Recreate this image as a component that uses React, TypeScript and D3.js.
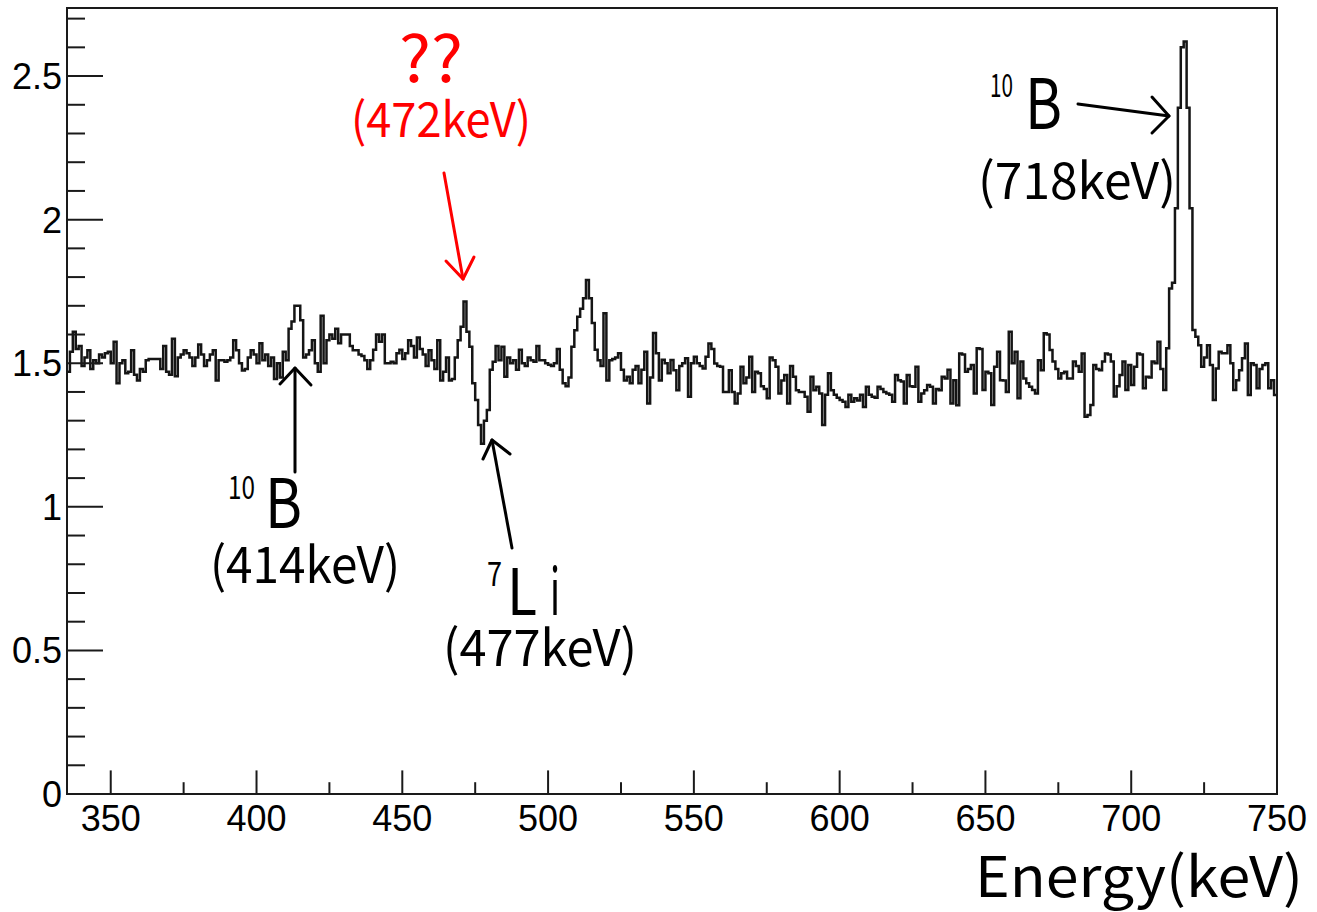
import React from "react";
import * as d3 from "d3";

// ---- data ----
const energyStart = 335; // keV, first bin low edge
const binWidth = 1; // keV
const energyEnd = 750;

const counts335to439 = [
  1.47, 1.54, 1.61, 1.55, 1.56, 1.49, 1.52, 1.545, 1.48, 1.51,
  1.5, 1.53, 1.52, 1.535, 1.54, 1.5, 1.575, 1.43, 1.5, 1.51,
  1.465, 1.47, 1.545, 1.46, 1.44, 1.48, 1.47, 1.51, 1.515, 1.515,
  1.515, 1.515, 1.48, 1.56, 1.47, 1.46, 1.585, 1.455, 1.52, 1.53,
  1.545, 1.535, 1.52, 1.49, 1.52, 1.565, 1.53, 1.49, 1.51, 1.53,
  1.545, 1.44, 1.51, 1.51, 1.505, 1.51, 1.52, 1.58, 1.545, 1.5,
  1.475, 1.48, 1.52, 1.545, 1.53, 1.5, 1.57, 1.51, 1.53, 1.49,
  1.52, 1.445, 1.5, 1.45, 1.54, 1.51, 1.62, 1.645, 1.7, 1.7,
  1.65, 1.52, 1.53, 1.545, 1.58, 1.5, 1.47, 1.665, 1.5, 1.58,
  1.6, 1.585, 1.62, 1.57, 1.6, 1.6, 1.6, 1.56, 1.545, 1.545,
  1.53, 1.525, 1.51, 1.48, 1.51,
];
const counts440to545 = [
  1.547, 1.6, 1.575, 1.6, 1.5, 1.5, 1.505, 1.5, 1.535, 1.547,
  1.515, 1.535, 1.58, 1.56, 1.52, 1.59, 1.55, 1.53, 1.49, 1.545,
  1.51, 1.48, 1.58, 1.44, 1.47, 1.52, 1.44, 1.445, 1.52, 1.58,
  1.627, 1.715, 1.61, 1.557, 1.43, 1.372, 1.285, 1.22, 1.3, 1.337,
  1.477, 1.505, 1.56, 1.51, 1.557, 1.453, 1.52, 1.5, 1.51, 1.477,
  1.547, 1.5, 1.49, 1.52, 1.51, 1.505, 1.56, 1.51, 1.51, 1.5,
  1.495, 1.49, 1.5, 1.55, 1.477, 1.43, 1.42, 1.45, 1.557, 1.615,
  1.662, 1.69, 1.726, 1.79, 1.726, 1.64, 1.547, 1.51, 1.49, 1.674,
  1.44, 1.51, 1.515, 1.52, 1.535, 1.477, 1.44, 1.453, 1.43, 1.477,
  1.49, 1.43, 1.477, 1.54, 1.36, 1.45, 1.605, 1.535, 1.44, 1.512,
  1.5, 1.465, 1.511, 1.476, 1.406, 1.49,
];
const counts546to649 = [
  1.5, 1.517, 1.383, 1.5,
  1.523, 1.5, 1.49, 1.482, 1.523, 1.569, 1.55, 1.499, 1.49, 1.488,
  1.4, 1.4, 1.476, 1.4, 1.36, 1.395, 1.488, 1.43, 1.45, 1.523,
  1.4, 1.47, 1.465, 1.42, 1.41, 1.378, 1.52, 1.51, 1.488, 1.395,
  1.44, 1.459, 1.36, 1.49, 1.453, 1.406, 1.4, 1.4, 1.383, 1.331,
  1.453, 1.406, 1.418, 1.395, 1.285, 1.39, 1.465, 1.406, 1.39, 1.38,
  1.372, 1.366, 1.348, 1.39, 1.366, 1.378, 1.37, 1.39, 1.348, 1.418,
  1.39, 1.383, 1.38, 1.418, 1.41, 1.4, 1.395, 1.39, 1.366, 1.459,
  1.441, 1.436, 1.36, 1.459, 1.42, 1.418, 1.488, 1.366, 1.395, 1.406,
  1.424, 1.418, 1.36, 1.41, 1.406, 1.453, 1.447, 1.477, 1.36, 1.441,
  1.354, 1.534, 1.53, 1.47, 1.48, 1.494, 1.395, 1.552, 1.55, 1.407,
];
const counts650to749 = [
  1.47, 1.465, 1.355, 1.488, 1.54, 1.441, 1.44, 1.4, 1.61, 1.5,
  1.54, 1.378, 1.506, 1.447, 1.43, 1.418, 1.407, 1.395, 1.51, 1.476,
  1.604, 1.6, 1.546, 1.506, 1.48, 1.447, 1.465, 1.47, 1.447, 1.447,
  1.506, 1.49, 1.47, 1.534, 1.314, 1.32, 1.355, 1.494, 1.48, 1.476,
  1.506, 1.534, 1.53, 1.506, 1.384, 1.42, 1.459, 1.506, 1.407, 1.494,
  1.424, 1.488, 1.534, 1.53, 1.413, 1.453, 1.45, 1.506, 1.5, 1.575,
  1.48, 1.407, 1.552, 1.76, 1.78, 2.04, 2.39, 2.6, 2.62, 2.39,
  2.04, 1.616, 1.592, 1.563, 1.488, 1.52, 1.563, 1.494, 1.372, 1.482,
  1.54, 1.535, 1.535, 1.563, 1.5, 1.407, 1.441, 1.476, 1.517, 1.569,
  1.389, 1.5, 1.494, 1.413, 1.48, 1.494, 1.5, 1.413, 1.441, 1.389,
];

const xTickValues = [350, 400, 450, 500, 550, 600, 650, 700, 750];
const xMinorTickValues = [375, 425, 475, 525, 575, 625, 675, 725];
const yTickValues = [0, 0.5, 1, 1.5, 2, 2.5];
const yTickLabels = ["0", "0.5", "1", "1.5", "2", "2.5"];
const yMax = 2.737;

const xTitle = "Energy(keV)";

const W = 1317;
const H = 912;
const plot = { left: 67, right: 1277, top: 8, bottom: 794 };

const annoFont = "'Noto Sans CJK JP', 'Noto Sans', sans-serif";
const tickFont = "'Liberation Sans', Arial, Helvetica, sans-serif";

type Part = { text: string; x: number; w: number; y: number; size: number };
type Label = { parts: Part[]; color: string };
const labels: Label[] = [
  { parts: [{ text: "??", x: 399, w: 64, y: 82, size: 64 }], color: "#f00" },
  { parts: [{ text: "(472keV)", x: 351, w: 180, y: 137, size: 48 }], color: "#f00" },
  {
    parts: [
      { text: "10", x: 990, w: 23, y: 97, size: 32 },
      { text: "B", x: 1025, w: 37, y: 129, size: 70 },
    ],
    color: "#000",
  },
  { parts: [{ text: "(718keV)", x: 978, w: 198, y: 199, size: 50 }], color: "#000" },
  {
    parts: [
      { text: "10", x: 228, w: 27, y: 499, size: 32 },
      { text: "B", x: 265, w: 37, y: 528, size: 68 },
    ],
    color: "#000",
  },
  { parts: [{ text: "(414keV)", x: 210, w: 190, y: 583, size: 50 }], color: "#000" },
  {
    parts: [
      { text: "7", x: 487, w: 15, y: 586, size: 34 },
      { text: "L", x: 507, w: 30, y: 615, size: 64 },
      { text: "i", x: 550, w: 10, y: 615, size: 64 },
    ],
    color: "#000",
  },
  { parts: [{ text: "(477keV)", x: 443, w: 194, y: 666, size: 50 }], color: "#000" },
];

type Arrow = { x1: number; y1: number; x2: number; y2: number; w1: [number, number]; w2: [number, number]; color: string };
const arrows: Arrow[] = [
  { x1: 444, y1: 173, x2: 463, y2: 279, w1: [446, 261], w2: [474, 257], color: "#f00" },
  { x1: 1078, y1: 104, x2: 1169, y2: 116, w1: [1152, 97], w2: [1152, 133], color: "#000" },
  { x1: 295, y1: 472, x2: 295, y2: 368, w1: [280, 384], w2: [311, 385], color: "#000" },
  { x1: 512, y1: 548, x2: 492, y2: 440, w1: [483, 459], w2: [510, 454], color: "#000" },
];

export default function App() {
  const counts = [...counts335to439, ...counts440to545, ...counts546to649, ...counts650to749];
  const x = d3.scaleLinear().domain([energyStart, energyEnd]).range([plot.left, plot.right]);
  const y = d3.scaleLinear().domain([0, yMax]).range([plot.bottom, plot.top]);

  const pts: [number, number][] = counts.map((v, i) => [energyStart + i * binWidth, v]);
  pts.push([energyStart + counts.length * binWidth, counts[counts.length - 1]]);
  const line = d3
    .line<[number, number]>()
    .x((d) => x(d[0]))
    .y((d) => y(d[1]))
    .curve(d3.curveStepAfter);

  const yMinor = d3
    .range(1, 28)
    .map((i) => i / 10)
    .filter((v) => Math.abs(v * 2 - Math.round(v * 2)) > 1e-6);

  const xMajorLen = 23.6;
  const xMinorLen = 11.8;
  const yMajorLen = 36;
  const yMinorLen = 18;

  return (
    <svg width={W} height={H} style={{ position: "absolute", left: 0, top: 0, background: "#fff" }}>
      <rect x={0} y={0} width={W} height={H} fill="#fff" />
      {/* histogram */}
      <path d={line(pts) || ""} fill="none" stroke="#151515" strokeWidth={2.5} strokeLinejoin="miter" />
      {/* frame */}
      <rect
        x={plot.left}
        y={plot.top}
        width={plot.right - plot.left}
        height={plot.bottom - plot.top}
        fill="none"
        stroke="#1a1a1a"
        strokeWidth={2}
      />
      {/* x ticks */}
      {xTickValues.map((t) => (
        <line key={"xt" + t} x1={x(t)} x2={x(t)} y1={plot.bottom} y2={plot.bottom - xMajorLen} stroke="#1a1a1a" strokeWidth={2} />
      ))}
      {xMinorTickValues.map((t) => (
        <line key={"xm" + t} x1={x(t)} x2={x(t)} y1={plot.bottom} y2={plot.bottom - xMinorLen} stroke="#1a1a1a" strokeWidth={2} />
      ))}
      {xTickValues.map((t) => (
        <text key={"xl" + t} x={x(t)} y={831} fontFamily={tickFont} fontSize={36} textAnchor="middle" fill="#000">
          {String(t)}
        </text>
      ))}
      {/* y ticks */}
      {yTickValues.map((t) => (
        <line key={"yt" + t} x1={plot.left} x2={plot.left + yMajorLen} y1={y(t)} y2={y(t)} stroke="#1a1a1a" strokeWidth={2} />
      ))}
      {yMinor.map((t) => (
        <line key={"ym" + t} x1={plot.left} x2={plot.left + yMinorLen} y1={y(t)} y2={y(t)} stroke="#1a1a1a" strokeWidth={2} />
      ))}
      {yTickValues.map((t, i) => (
        <text key={"yl" + t} x={62} y={y(t) + 13} fontFamily={tickFont} fontSize={36} textAnchor="end" fill="#000">
          {yTickLabels[i]}
        </text>
      ))}
      {/* x title */}
      <text
        x={975}
        y={897}
        fontFamily={annoFont}
        fontSize={56}
        textLength={328}
        lengthAdjust="spacingAndGlyphs"
        fill="#000"
      >
        {xTitle}
      </text>
      {/* annotations */}
      {labels.map((l, i) => (
        <text key={"lab" + i} fontFamily={annoFont} fill={l.color}>
          {l.parts.map((p, j) => (
            <tspan
              key={j}
              x={p.x}
              y={p.y}
              fontSize={p.size}
              textLength={p.w}
              lengthAdjust="spacingAndGlyphs"
            >
              {p.text}
            </tspan>
          ))}
        </text>
      ))}
      {arrows.map((a, i) => (
        <g key={"arr" + i} stroke={a.color} strokeWidth={3} fill="none" strokeLinecap="round" strokeLinejoin="round">
          <line x1={a.x1} y1={a.y1} x2={a.x2} y2={a.y2} />
          <polyline points={`${a.w1[0]},${a.w1[1]} ${a.x2},${a.y2} ${a.w2[0]},${a.w2[1]}`} />
        </g>
      ))}
    </svg>
  );
}
